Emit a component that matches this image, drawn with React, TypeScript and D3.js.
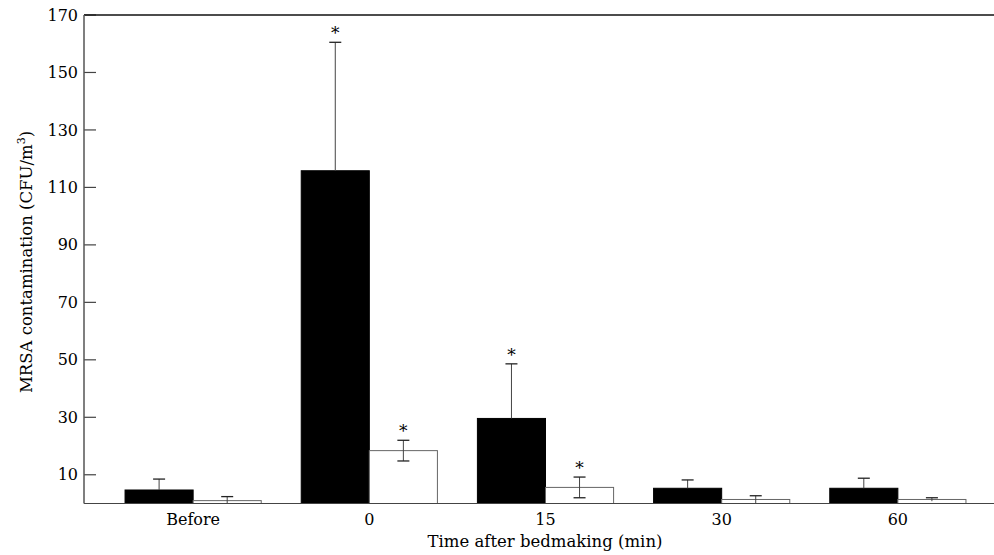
import React, { useEffect, useRef } from 'react';
import * as d3 from 'd3';

const categories = ['Before', '0', '15', '30', '60'];
const series = ['black', 'white'];
// mean values (CFU/m3)
const blackValues = [4.7, 115.8, 29.6, 5.3, 5.3];
const whiteValues = [1.0, 18.4, 5.6, 1.4, 1.4];
// error (SE) extents
const blackErrors = [3.8, 44.7, 19.0, 2.9, 3.5];
const whiteErrors = [1.4, 3.6, 3.6, 1.3, 0.6];
// significance markers
const blackStars = [false, true, true, false, false];
const whiteStars = [false, true, true, false, false];
const yTicks = [10, 30, 50, 70, 90, 110, 130, 150, 170];

const width = 994;
const height = 555;
const left = 84;
const top = 15;
const bottom = 503.5;
const font = '"DejaVu Serif", "Liberation Serif", serif';

export default function App() {
  const ref = useRef<SVGSVGElement>(null);

  useEffect(() => {
    const svg = d3.select(ref.current);
    svg.selectAll('*').remove();

    const x = d3
      .scaleBand()
      .domain(categories)
      .range([left, 1007])
      .paddingInner(0.227)
      .paddingOuter(0.233);
    const xs = d3.scaleBand().domain(series).range([0, x.bandwidth()]);
    const y = d3.scaleLinear().domain([0, 170]).range([bottom, top]);

    const data = categories.flatMap((c, i) => [
      { cat: c, s: 'black', v: blackValues[i], e: blackErrors[i], star: blackStars[i] },
      { cat: c, s: 'white', v: whiteValues[i], e: whiteErrors[i], star: whiteStars[i] },
    ]);

    // y ticks
    svg
      .selectAll('line.tick')
      .data(yTicks)
      .enter()
      .append('line')
      .attr('x1', left)
      .attr('x2', left + 12)
      .attr('y1', d => y(d))
      .attr('y2', d => y(d))
      .attr('stroke', '#444')
      .attr('stroke-width', 1.2);

    svg
      .selectAll('text.ytick')
      .data(yTicks)
      .enter()
      .append('text')
      .attr('x', left - 6)
      .attr('y', d => y(d))
      .attr('dy', '0.35em')
      .attr('text-anchor', 'end')
      .attr('font-family', font)
      .attr('font-size', 16)
      .text(d => d);

    // bars
    svg
      .selectAll('rect.bar')
      .data(data)
      .enter()
      .append('rect')
      .attr('x', d => (x(d.cat) as number) + (xs(d.s) as number))
      .attr('y', d => y(d.v))
      .attr('width', xs.bandwidth())
      .attr('height', d => y(0) - y(d.v))
      .attr('fill', d => (d.s === 'black' ? '#000' : '#fff'))
      .attr('stroke', d => (d.s === 'black' ? '#000' : '#666'))
      .attr('stroke-width', 1);

    // error bars
    const cx = (d: any) => (x(d.cat) as number) + (xs(d.s) as number) + xs.bandwidth() / 2;
    const g = svg.selectAll('g.err').data(data).enter().append('g');
    g.append('line')
      .attr('x1', cx)
      .attr('x2', cx)
      .attr('y1', d => (d.s === 'black' ? y(d.v) : y(Math.max(0, d.v - d.e))))
      .attr('y2', d => y(d.v + d.e))
      .attr('stroke', '#444')
      .attr('stroke-width', 1);
    g.append('line')
      .attr('x1', d => cx(d) - 6)
      .attr('x2', d => cx(d) + 6)
      .attr('y1', d => y(d.v + d.e))
      .attr('y2', d => y(d.v + d.e))
      .attr('stroke', '#222')
      .attr('stroke-width', 1.3);
    g.filter(d => d.s === 'white' && d.v - d.e > 1)
      .append('line')
      .attr('x1', d => cx(d) - 6)
      .attr('x2', d => cx(d) + 6)
      .attr('y1', d => y(d.v - d.e))
      .attr('y2', d => y(d.v - d.e))
      .attr('stroke', '#222')
      .attr('stroke-width', 1.3);
    g.filter(d => d.star)
      .append('text')
      .attr('x', cx)
      .attr('y', d => y(d.v + d.e) - 3)
      .attr('text-anchor', 'middle')
      .attr('font-family', font)
      .attr('font-size', 17)
      .text('*');

    // axes frame
    svg.append('line')
      .attr('x1', left).attr('x2', width)
      .attr('y1', top).attr('y2', top)
      .attr('stroke', '#111').attr('stroke-width', 1.5);
    svg.append('line')
      .attr('x1', left).attr('x2', width)
      .attr('y1', bottom).attr('y2', bottom)
      .attr('stroke', '#444').attr('stroke-width', 1.2);
    svg.append('line')
      .attr('x1', left).attr('x2', left)
      .attr('y1', top).attr('y2', bottom)
      .attr('stroke', '#555').attr('stroke-width', 1.5);

    // category labels
    svg
      .selectAll('text.xtick')
      .data(categories)
      .enter()
      .append('text')
      .attr('x', d => (x(d) as number) + x.bandwidth() / 2)
      .attr('y', 525)
      .attr('text-anchor', 'middle')
      .attr('font-family', font)
      .attr('font-size', 16)
      .text(d => d);

    svg.append('text')
      .attr('x', 545)
      .attr('y', 547)
      .attr('text-anchor', 'middle')
      .attr('font-family', font)
      .attr('font-size', 16.5)
      .text('Time after bedmaking (min)');

    const yl = svg.append('text')
      .attr('transform', 'translate(32,262) rotate(-90)')
      .attr('text-anchor', 'middle')
      .attr('font-family', font)
      .attr('font-size', 16.5);
    yl.append('tspan').text('MRSA contamination (CFU/m');
    yl.append('tspan').attr('font-size', 11).attr('dy', -7).text('3');
    yl.append('tspan').attr('dy', 7).text(')');
  }, []);

  return (
    <svg
      ref={ref}
      width={width}
      height={height}
      style={{ position: 'absolute', left: 0, top: 0, background: '#fff' }}
    />
  );
}
